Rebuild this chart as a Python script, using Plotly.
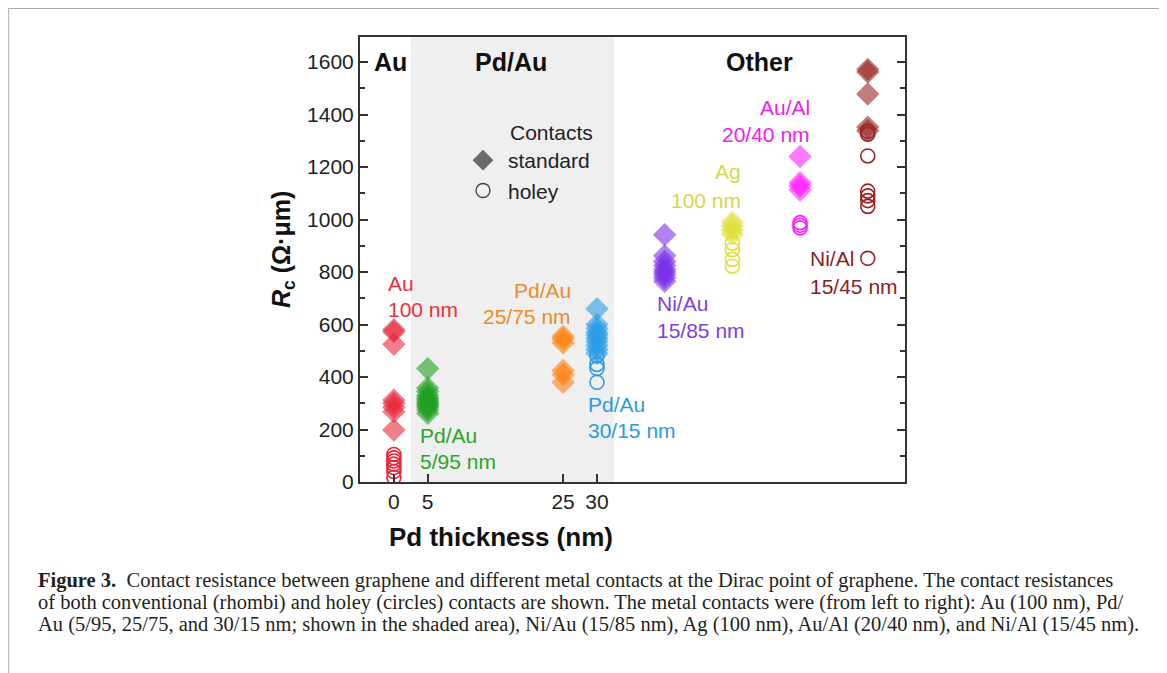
import plotly.graph_objects as go

# ---------------- data ----------------
group_names = ["Au 100 nm", "Pd/Au 5/95 nm", "Pd/Au 25/75 nm", "Pd/Au 30/15 nm",
               "Ni/Au 15/85 nm", "Ag 100 nm", "Au/Al 20/40 nm", "Ni/Al 15/45 nm"]
group_x = [0, 5, 25, 30, 40, 50, 60, 70]

std_au = [580, 572, 525, 312, 300, 285, 268, 198]
std_pdau_5 = [432, 358, 345, 330, 320, 312, 305, 298, 292, 285, 275, 262]
std_pdau_25 = [555, 545, 530, 425, 410, 380]
std_pdau_30 = [660, 600, 585, 570, 560, 548, 535, 520, 505, 490]
std_niau = [942, 862, 840, 825, 810, 800, 790, 778, 765]
std_ag = [990, 975, 960, 945]
std_aual = [1240, 1140, 1128, 1112]
std_nial = [1572, 1562, 1478, 1352, 1338]

hol_au = [105, 92, 80, 68, 55, 40, 18]
hol_pdau_5 = []
hol_pdau_25 = []
hol_pdau_30 = [480, 448, 432, 380]
hol_niau = []
hol_ag = [910, 885, 848, 822]
hol_aual = [988, 978, 968]
hol_nial = [1335, 1325, 1242, 1108, 1090, 1072, 1050, 852]

standard = [std_au, std_pdau_5, std_pdau_25, std_pdau_30, std_niau, std_ag, std_aual, std_nial]
holey = [hol_au, hol_pdau_5, hol_pdau_25, hol_pdau_30, hol_niau, hol_ag, hol_aual, hol_nial]

label_line1 = ["Au", "Pd/Au", "Pd/Au", "Pd/Au", "Ni/Au", "Ag", "Au/Al", "Ni/Al"]
label_line2 = ["100 nm", "5/95 nm", "25/75 nm", "30/15 nm", "15/85 nm", "100 nm", "20/40 nm", "15/45 nm"]

section_titles = ["Au", "Pd/Au", "Other"]
x_tick_vals = [0, 5, 25, 30]
y_tick_vals = [0, 200, 400, 600, 800, 1000, 1200, 1400, 1600]
x_title = "Pd thickness (nm)"
y_title = "<i>R</i><sub>c</sub> (Ω·μm)"

caption_lines = [
    "<b>Figure 3.</b>  Contact resistance between graphene and different metal contacts at the Dirac point of graphene. The contact resistances",
    "of both conventional (rhombi) and holey (circles) contacts are shown. The metal contacts were (from left to right): Au (100 nm), Pd/",
    "Au (5/95, 25/75, and 30/15 nm; shown in the shaded area), Ni/Au (15/85 nm), Ag (100 nm), Au/Al (20/40 nm), and Ni/Al (15/45 nm).",
]

# ---------------- styles ----------------
colors = ["#e8283a", "#22a022", "#ff8010", "#2a9de8", "#7c30e8", "#e0e038", "#ff20ff", "#9a2424"]
text_colors = ["#e8323c", "#2aa52a", "#f08a24", "#2b9be0", "#8040e0", "#d6d64a", "#f020f0", "#8b1e1e"]
SANS = "Liberation Sans, Arial, sans-serif"
SERIF = "Liberation Serif, Times New Roman, serif"

OFF = 8                      # browser body margin
PAGE_W, PAGE_H = 1167, 673
W, H = PAGE_W - OFF, PAGE_H - OFF
L, R, T, B = 360, 905, 37, 482   # plot area in page px


def px2paper_x(px):
    return (px - L) / (R - L)


def px2paper_y(py):
    return (B - py) / (B - T)


fig = go.Figure()

for i, name in enumerate(group_names):
    c = colors[i]
    if standard[i]:
        fig.add_trace(go.Scatter(
            x=[group_x[i]] * len(standard[i]), y=standard[i], mode="markers",
            name=name + " standard", showlegend=False,
            marker=dict(symbol="diamond", size=18, color=c, opacity=0.6, line=dict(width=0)),
        ))
    if holey[i]:
        fig.add_trace(go.Scatter(
            x=[group_x[i]] * len(holey[i]), y=holey[i], mode="markers",
            name=name + " holey", showlegend=False,
            marker=dict(symbol="circle-open", size=14, color=c, line=dict(width=1.6, color=c)),
        ))

# legend entries
fig.add_trace(go.Scatter(x=[None], y=[None], mode="markers", name="standard",
                         marker=dict(symbol="diamond", size=16, color="#6a6a6a")))
fig.add_trace(go.Scatter(x=[None], y=[None], mode="markers", name="holey",
                         marker=dict(symbol="circle-open", size=14, color="#444",
                                     line=dict(width=1.4, color="#444"))))

annotations = []
# section headings (page px positions)
heading_px = [(390, 62), (511, 62), (759, 62)]
for t, (hx, hy) in zip(section_titles, heading_px):
    annotations.append(dict(x=px2paper_x(hx), y=px2paper_y(hy), xref="paper", yref="paper",
                            text="<b>" + t + "</b>", showarrow=False,
                            font=dict(family=SANS, size=25, color="#111"),
                            xanchor="center", yanchor="middle"))

# group labels: (anchor px x, xanchor, line1 y px, line2 y px)
label_pos = [(386, "left", 283, 309), (418, "left", 435, 461), (573, "right", 290, 316),
             (586, "left", 404, 430), (655, "left", 303, 330), (743, "right", 172, 200),
             (812, "right", 107, 134), (808, "left", 258, 286)]
for i, (lx, xa, y1, y2) in enumerate(label_pos):
    for txt, yy in ((label_line1[i], y1), (label_line2[i], y2)):
        annotations.append(dict(x=px2paper_x(lx), y=px2paper_y(yy), xref="paper", yref="paper",
                                text=txt, showarrow=False, xanchor=xa, yanchor="middle",
                                font=dict(family=SANS, size=21, color=text_colors[i])))

# legend heading
annotations.append(dict(x=px2paper_x(508), y=px2paper_y(133), xref="paper", yref="paper",
                        text="Contacts", showarrow=False, xanchor="left", yanchor="middle",
                        font=dict(family=SANS, size=21, color="#222")))

# axis titles
annotations.append(dict(x=px2paper_x(501), y=px2paper_y(537), xref="paper", yref="paper",
                        text="<b>" + x_title + "</b>", showarrow=False,
                        xanchor="center", yanchor="middle",
                        font=dict(family=SANS, size=26, color="#111")))
annotations.append(dict(x=px2paper_x(283), y=px2paper_y(250), xref="paper", yref="paper",
                        text="<b>" + y_title + "</b>", showarrow=False, textangle=-90,
                        xanchor="center", yanchor="middle",
                        font=dict(family=SANS, size=25, color="#111")))

# caption
cap_y = [580, 602, 624]
for line, cy in zip(caption_lines, cap_y):
    annotations.append(dict(x=px2paper_x(36), y=px2paper_y(cy), xref="paper", yref="paper",
                            text=line, showarrow=False, xanchor="left", yanchor="middle",
                            font=dict(family=SERIF, size=20.5, color="#231f20")))

shapes = [
    dict(type="rect", xref="x", yref="paper", x0=2.5, x1=32.5, y0=0, y1=1,
         fillcolor="#efefef", line=dict(width=0), layer="below"),
    # page frame
    dict(type="line", xref="paper", yref="paper", x0=px2paper_x(8), x1=px2paper_x(1163),
         y0=px2paper_y(8), y1=px2paper_y(8), line=dict(color="#a8a8a8", width=2)),
    dict(type="line", xref="paper", yref="paper", x0=px2paper_x(8), x1=px2paper_x(8),
         y0=px2paper_y(8), y1=px2paper_y(680), line=dict(color="#bdbdbd", width=2.5)),
    dict(type="line", xref="paper", yref="paper", x0=px2paper_x(1162), x1=px2paper_x(1162),
         y0=px2paper_y(8), y1=px2paper_y(680), line=dict(color="#bdbdbd", width=2.5)),
]

y_top = (B - T) / 0.2625

fig.update_layout(
    width=W, height=H,
    margin=dict(l=L - OFF, r=PAGE_W - R, t=T - OFF, b=PAGE_H - B, pad=0),
    paper_bgcolor="white", plot_bgcolor="white",
    showlegend=True,
    legend=dict(x=px2paper_x(458), y=px2paper_y(140), xanchor="left", yanchor="top",
                bgcolor="rgba(0,0,0,0)", font=dict(family=SANS, size=21, color="#222"),
                itemwidth=40, tracegroupgap=0),
    annotations=annotations,
    shapes=shapes,
    xaxis=dict(range=[-5, 75.5], tickvals=x_tick_vals, ticks="inside", ticklen=8, tickwidth=2,
               tickcolor="#333", showline=True, linecolor="#333", linewidth=2, mirror=True,
               showgrid=False, zeroline=False,
               tickfont=dict(family=SANS, size=21, color="#222")),
    yaxis=dict(range=[0, y_top], tickvals=y_tick_vals, ticks="inside", ticklen=8, tickwidth=2,
               tickcolor="#333", showline=True, linecolor="#333", linewidth=2, mirror="ticks",
               showgrid=False, zeroline=False,
               minor=dict(dtick=100, ticks="inside", ticklen=5, tickwidth=1.5, tickcolor="#333",
                          showgrid=False),
               tickfont=dict(family=SANS, size=21, color="#222")),
)

fig.write_html("out.html")
